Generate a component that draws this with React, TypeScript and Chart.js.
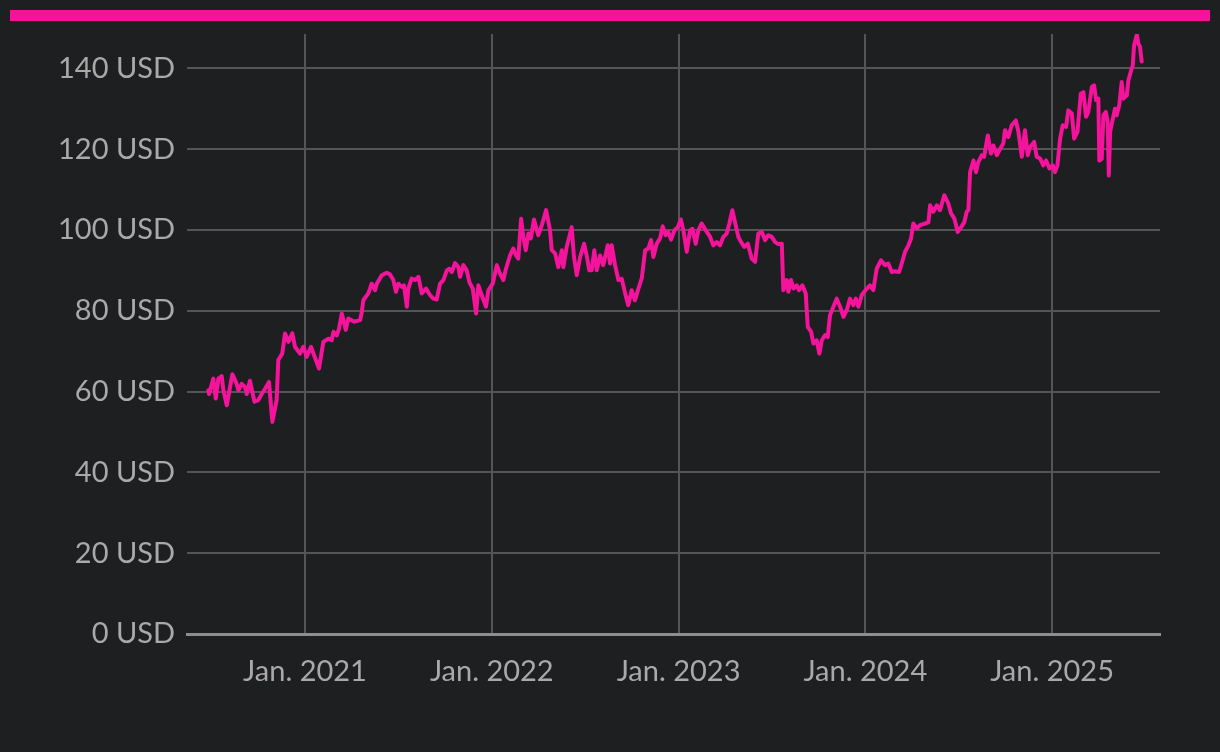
import React, { useEffect, useRef } from "react";
import { Chart, registerables } from "chart.js";

Chart.register(...registerables);

const yearTicks = [2021, 2022, 2023, 2024, 2025];
const xMin = 2020.368;
const xMax = 2025.578;
const yMax = 148.5;
const yStep = 20;

// decimal year of each sample
const times = [
  2020.482, 2020.486, 2020.509, 2020.522, 2020.536, 2020.554, 2020.563, 2020.581, 2020.589, 2020.611,
  2020.634, 2020.643, 2020.661, 2020.679, 2020.688, 2020.705, 2020.729, 2020.75, 2020.768, 2020.786,
  2020.807, 2020.825, 2020.848, 2020.857, 2020.878, 2020.893, 2020.911, 2020.932, 2020.946, 2020.973,
  2020.991, 2021.009, 2021.032, 2021.054, 2021.075, 2021.098, 2021.125, 2021.143, 2021.152, 2021.17,
  2021.182, 2021.197, 2021.218, 2021.232, 2021.264, 2021.295, 2021.304, 2021.312, 2021.339, 2021.357,
  2021.375, 2021.384, 2021.411, 2021.437, 2021.455, 2021.473, 2021.487, 2021.5, 2021.518, 2021.53,
  2021.545, 2021.553, 2021.571, 2021.589, 2021.607, 2021.625, 2021.648, 2021.669, 2021.687, 2021.705,
  2021.723, 2021.741, 2021.759, 2021.773, 2021.786, 2021.803, 2021.821, 2021.83, 2021.848, 2021.866,
  2021.88, 2021.898, 2021.916, 2021.928, 2021.946, 2021.969, 2021.982, 2022.005, 2022.027, 2022.044,
  2022.062, 2022.076, 2022.098, 2022.115, 2022.13, 2022.142, 2022.157, 2022.169, 2022.182, 2022.196,
  2022.209, 2022.226, 2022.249, 2022.268, 2022.291, 2022.312, 2022.321, 2022.339, 2022.356, 2022.375,
  2022.383, 2022.401, 2022.428, 2022.44, 2022.455, 2022.473, 2022.494, 2022.508, 2022.522, 2022.535,
  2022.549, 2022.562, 2022.58, 2022.597, 2022.621, 2022.633, 2022.642, 2022.66, 2022.678, 2022.696,
  2022.714, 2022.731, 2022.749, 2022.767, 2022.785, 2022.803, 2022.821, 2022.838, 2022.853, 2022.865,
  2022.883, 2022.901, 2022.915, 2022.931, 2022.945, 2022.96, 2022.978, 2022.996, 2023.012, 2023.026,
  2023.044, 2023.062, 2023.074, 2023.092, 2023.106, 2023.124, 2023.146, 2023.169, 2023.186, 2023.205,
  2023.222, 2023.24, 2023.258, 2023.272, 2023.288, 2023.306, 2023.32, 2023.335, 2023.352, 2023.371,
  2023.392, 2023.41, 2023.427, 2023.446, 2023.463, 2023.481, 2023.499, 2023.517, 2023.534, 2023.553,
  2023.561, 2023.579, 2023.588, 2023.602, 2023.615, 2023.633, 2023.645, 2023.663, 2023.681, 2023.692,
  2023.71, 2023.722, 2023.74, 2023.754, 2023.767, 2023.785, 2023.799, 2023.811, 2023.829, 2023.847,
  2023.865, 2023.883, 2023.901, 2023.918, 2023.936, 2023.949, 2023.963, 2023.981, 2024.008, 2024.025,
  2024.043, 2024.061, 2024.084, 2024.106, 2024.123, 2024.142, 2024.159, 2024.181, 2024.195, 2024.213,
  2024.231, 2024.245, 2024.257, 2024.276, 2024.293, 2024.32, 2024.338, 2024.347, 2024.364, 2024.383,
  2024.4, 2024.423, 2024.445, 2024.459, 2024.477, 2024.495, 2024.513, 2024.53, 2024.543, 2024.552,
  2024.561, 2024.579, 2024.593, 2024.605, 2024.624, 2024.636, 2024.656, 2024.673, 2024.686, 2024.704,
  2024.722, 2024.739, 2024.748, 2024.766, 2024.784, 2024.806, 2024.82, 2024.838, 2024.855, 2024.87,
  2024.882, 2024.904, 2024.918, 2024.936, 2024.953, 2024.968, 2024.986, 2025.004, 2025.016, 2025.029,
  2025.043, 2025.057, 2025.075, 2025.087, 2025.106, 2025.118, 2025.136, 2025.154, 2025.168, 2025.182,
  2025.194, 2025.213, 2025.225, 2025.236, 2025.248, 2025.253, 2025.266, 2025.275, 2025.288, 2025.298,
  2025.304, 2025.311, 2025.32, 2025.337, 2025.346, 2025.36, 2025.373, 2025.382, 2025.4, 2025.409,
  2025.421, 2025.432, 2025.439, 2025.454, 2025.462, 2025.471, 2025.48,
];

// closing price in USD
const prices = [
  60.3, 59.4, 63.2, 58.3, 63.2, 63.8, 60.3, 56.6, 58.7, 64.3,
  61.9, 60.3, 61.9, 61.1, 59.4, 62.7, 57.5, 57.9, 59.4, 60.7,
  62.4, 52.5, 57.9, 67.8, 69.4, 74.4, 72.3, 74.4, 71.1, 69.4,
  71.1, 68.6, 71.1, 68.3, 65.7, 72.3, 73.1, 72.7, 74.8, 73.9,
  75.6, 79.3, 75.3, 78.1, 77.3, 77.7, 79.7, 82.6, 84.3, 86.7,
  85.1, 86.7, 88.8, 89.4, 89.0, 87.6, 84.7, 86.7, 85.9, 86.3,
  81.0, 85.5, 88.0, 87.6, 88.4, 84.3, 85.5, 83.9, 83.0, 82.8,
  86.7, 87.6, 90.0, 90.4, 89.6, 91.8, 90.8, 88.4, 91.3, 90.0,
  87.1, 85.5, 79.3, 86.3, 83.9, 81.0, 85.1, 86.7, 91.3, 89.2,
  87.6, 90.4, 93.7, 95.4, 93.7, 92.9, 102.8, 98.3, 95.0, 99.1,
  97.9, 102.6, 98.7, 101.2, 104.9, 99.9, 95.0, 94.2, 90.8, 95.0,
  90.8, 95.8, 100.7, 93.3, 88.8, 93.3, 96.6, 93.7, 90.0, 90.0,
  95.0, 90.0, 93.7, 91.3, 96.2, 91.7, 96.2, 91.3, 87.6, 87.9,
  84.3, 81.4, 85.1, 82.6, 85.5, 88.0, 95.0, 95.4, 97.5, 93.3,
  96.6, 97.9, 100.9, 98.7, 99.5, 97.6, 99.9, 100.7, 102.6, 99.9,
  94.6, 99.9, 100.3, 96.6, 99.9, 101.6, 99.9, 98.3, 96.2, 97.0,
  96.2, 98.3, 99.1, 101.6, 104.9, 101.2, 98.3, 97.0, 95.8, 96.6,
  92.9, 92.1, 99.1, 99.5, 97.5, 98.7, 98.3, 97.0, 96.5, 96.6,
  85.1, 87.6, 84.7, 87.6, 85.5, 86.3, 85.1, 86.3, 84.3, 76.0,
  74.8, 71.9, 72.7, 69.4, 72.7, 74.0, 73.5, 78.9, 81.0, 83.0,
  81.0, 78.5, 80.2, 83.0, 81.4, 83.0, 81.0, 83.9, 85.5, 86.3,
  85.1, 90.4, 92.5, 91.3, 91.7, 89.6, 89.8, 89.6, 91.7, 94.6,
  96.2, 97.9, 101.6, 100.4, 101.2, 101.6, 101.9, 106.1, 104.5, 106.1,
  104.9, 108.6, 106.5, 104.1, 102.8, 99.5, 100.7, 101.9, 104.5, 104.9,
  114.3, 117.2, 114.3, 116.8, 118.5, 118.1, 123.4, 118.9, 120.9, 118.5,
  120.1, 121.4, 124.7, 123.0, 125.9, 127.1, 124.3, 118.1, 124.7, 118.5,
  120.5, 121.8, 118.1, 117.7, 116.0, 117.2, 115.2, 116.0, 114.3, 116.0,
  122.6, 125.9, 125.5, 129.6, 128.8, 122.6, 124.3, 133.7, 134.1, 128.0,
  129.2, 135.4, 135.8, 132.1, 132.5, 117.2, 117.6, 128.4, 129.2, 126.7,
  113.5, 124.3, 126.3, 130.0, 128.4, 130.9, 136.6, 132.5, 133.3, 137.1,
  139.1, 140.7, 145.7, 148.3, 146.1, 145.3, 141.7,
];

const PINK = "#f4139a";
const BG = "#1e1f21";
const TEXT = "#a9a9a9";
const GRID = "#545556";
const AXIS = "#8e8e8e";
const FONT = "Lato";

export default function App() {
  const ref = useRef<HTMLCanvasElement | null>(null);

  useEffect(() => {
    document.body.style.margin = "0";
    document.body.style.background = BG;
    const canvas = ref.current;
    if (!canvas) return;
    const data = times.map((t, i) => ({ x: t, y: prices[i] }));
    const chart = new Chart(canvas, {
      type: "line",
      data: {
        datasets: [
          {
            data,
            borderColor: PINK,
            borderWidth: 4,
            pointRadius: 0,
            tension: 0,
            fill: false,
            borderJoinStyle: "round",
            borderCapStyle: "round",
          },
        ],
      },
      options: {
        animation: false,
        responsive: false,
        maintainAspectRatio: false,
        parsing: false,
        layout: { padding: { top: 34, right: 60, left: 0, bottom: 0 } },
        plugins: { legend: { display: false }, tooltip: { enabled: false } },
        scales: {
          x: {
            type: "linear",
            min: xMin,
            max: xMax,
            afterFit: (s: any) => {
              s.height = 118;
            },
            afterBuildTicks: (s: any) => {
              s.ticks = yearTicks.map((v) => ({ value: v }));
            },
            ticks: {
              includeBounds: false,
              autoSkip: false,
              maxRotation: 0,
              padding: 20,
              color: TEXT,
              font: { family: FONT, size: 29 },
              callback: (v: any) => "Jan. " + v,
            },
            grid: { color: GRID, lineWidth: 2, drawTicks: false },
            border: { display: true, color: AXIS, width: 3 },
          },
          y: {
            type: "linear",
            min: 0,
            max: yMax,
            afterFit: (s: any) => {
              s.width = 187;
            },
            ticks: {
              stepSize: yStep,
              includeBounds: false,
              padding: 12,
              color: TEXT,
              font: { family: FONT, size: 29 },
              callback: (v: any) => v + " USD",
            },
            grid: { color: GRID, lineWidth: 2, drawTicks: false },
            border: { display: false },
          },
        },
      },
    });
    return () => chart.destroy();
  }, []);

  return (
    <div
      style={{
        position: "fixed",
        left: 0,
        top: 0,
        width: 1220,
        height: 752,
        background: BG,
        overflow: "hidden",
      }}
    >
      <div
        style={{
          position: "absolute",
          left: 10,
          top: 10,
          width: 1200,
          height: 11,
          background: PINK,
        }}
      />
      <canvas
        ref={ref}
        width={1220}
        height={752}
        style={{ position: "absolute", left: 0, top: 0, width: 1220, height: 752 }}
      />
    </div>
  );
}
